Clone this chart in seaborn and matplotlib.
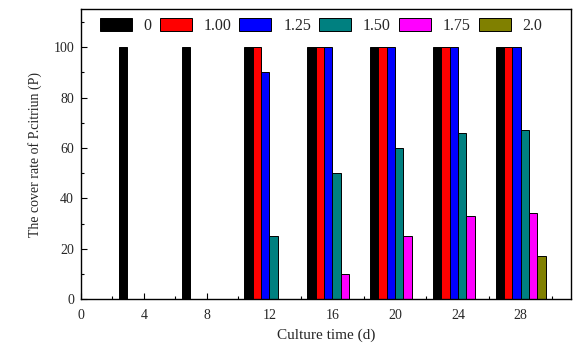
import numpy as np
import pandas as pd
import matplotlib
matplotlib.use("Agg")
import matplotlib.pyplot as plt
import seaborn as sns
from matplotlib.ticker import MultipleLocator

# ---- data ----
days = [4, 8, 12, 16, 20, 24, 28]
concentrations = ["0", "1.00", "1.25", "1.50", "1.75", "2.0"]
cover_0 = [100, 100, 100, 100, 100, 100, 100]
cover_100 = [0, 0, 100, 100, 100, 100, 100]
cover_125 = [0, 0, 90, 100, 100, 100, 100]
cover_150 = [0, 0, 25, 50, 60, 66, 67]
cover_175 = [0, 0, 0, 10, 25, 33, 34]
cover_200 = [0, 0, 0, 0, 0, 0, 17]
colors = ["#000000", "#ff0000", "#0000ff", "#008080", "#ff00ff", "#808000"]

series = [cover_0, cover_100, cover_125, cover_150, cover_175, cover_200]
rows = []
for conc, vals in zip(concentrations, series):
    for d, v in zip(days, vals):
        rows.append({"day": d, "conc": conc, "cover": v})
df = pd.DataFrame(rows)

sns.set_style("ticks")
plt.rcParams["font.family"] = ["Liberation Serif", "DejaVu Serif"]

fig = plt.figure(figsize=(5.84, 3.51), dpi=100)
ax = fig.add_axes([0.1387, 0.148, 0.8390, 0.825])

sns.barplot(data=df, x="day", y="cover", hue="conc", hue_order=concentrations,
            palette=colors, native_scale=True, saturation=1, width=0.8,
            edgecolor="black", linewidth=0.7, errorbar=None, ax=ax)

ax.set_xlim(0, 31.2)
ax.set_ylim(0, 115)
ax.xaxis.set_major_locator(MultipleLocator(4))
ax.xaxis.set_minor_locator(MultipleLocator(2))
ax.yaxis.set_major_locator(MultipleLocator(20))
ax.yaxis.set_minor_locator(MultipleLocator(10))
ax.set_yticks([0, 20, 40, 60, 80, 100])
ax.tick_params(which="both", direction="in", labelsize=10, color="black")
ax.tick_params(which="major", length=4.5, width=0.8)
ax.tick_params(which="minor", length=2.5, width=0.8)
ax.tick_params(axis="x", which="major", pad=7)
ax.tick_params(axis="y", which="major", pad=5)
for s in ax.spines.values():
    s.set_visible(True)
    s.set_color("black")
    s.set_linewidth(1.0)

ax.set_xlabel("Culture time (d)", fontsize=11, labelpad=5)
ax.set_ylabel("The cover rate of P.citriun (P)", fontsize=10, labelpad=8)

handles, labels = ax.get_legend_handles_labels()
ax.legend(handles, labels, ncol=6, frameon=False, loc="upper center",
          bbox_to_anchor=(0.49, 1.01), fontsize=11.5, handlelength=2.0,
          handleheight=0.9, handletextpad=0.75, columnspacing=0.5,
          borderaxespad=0.3)

fig.savefig("out.png", dpi=100)
